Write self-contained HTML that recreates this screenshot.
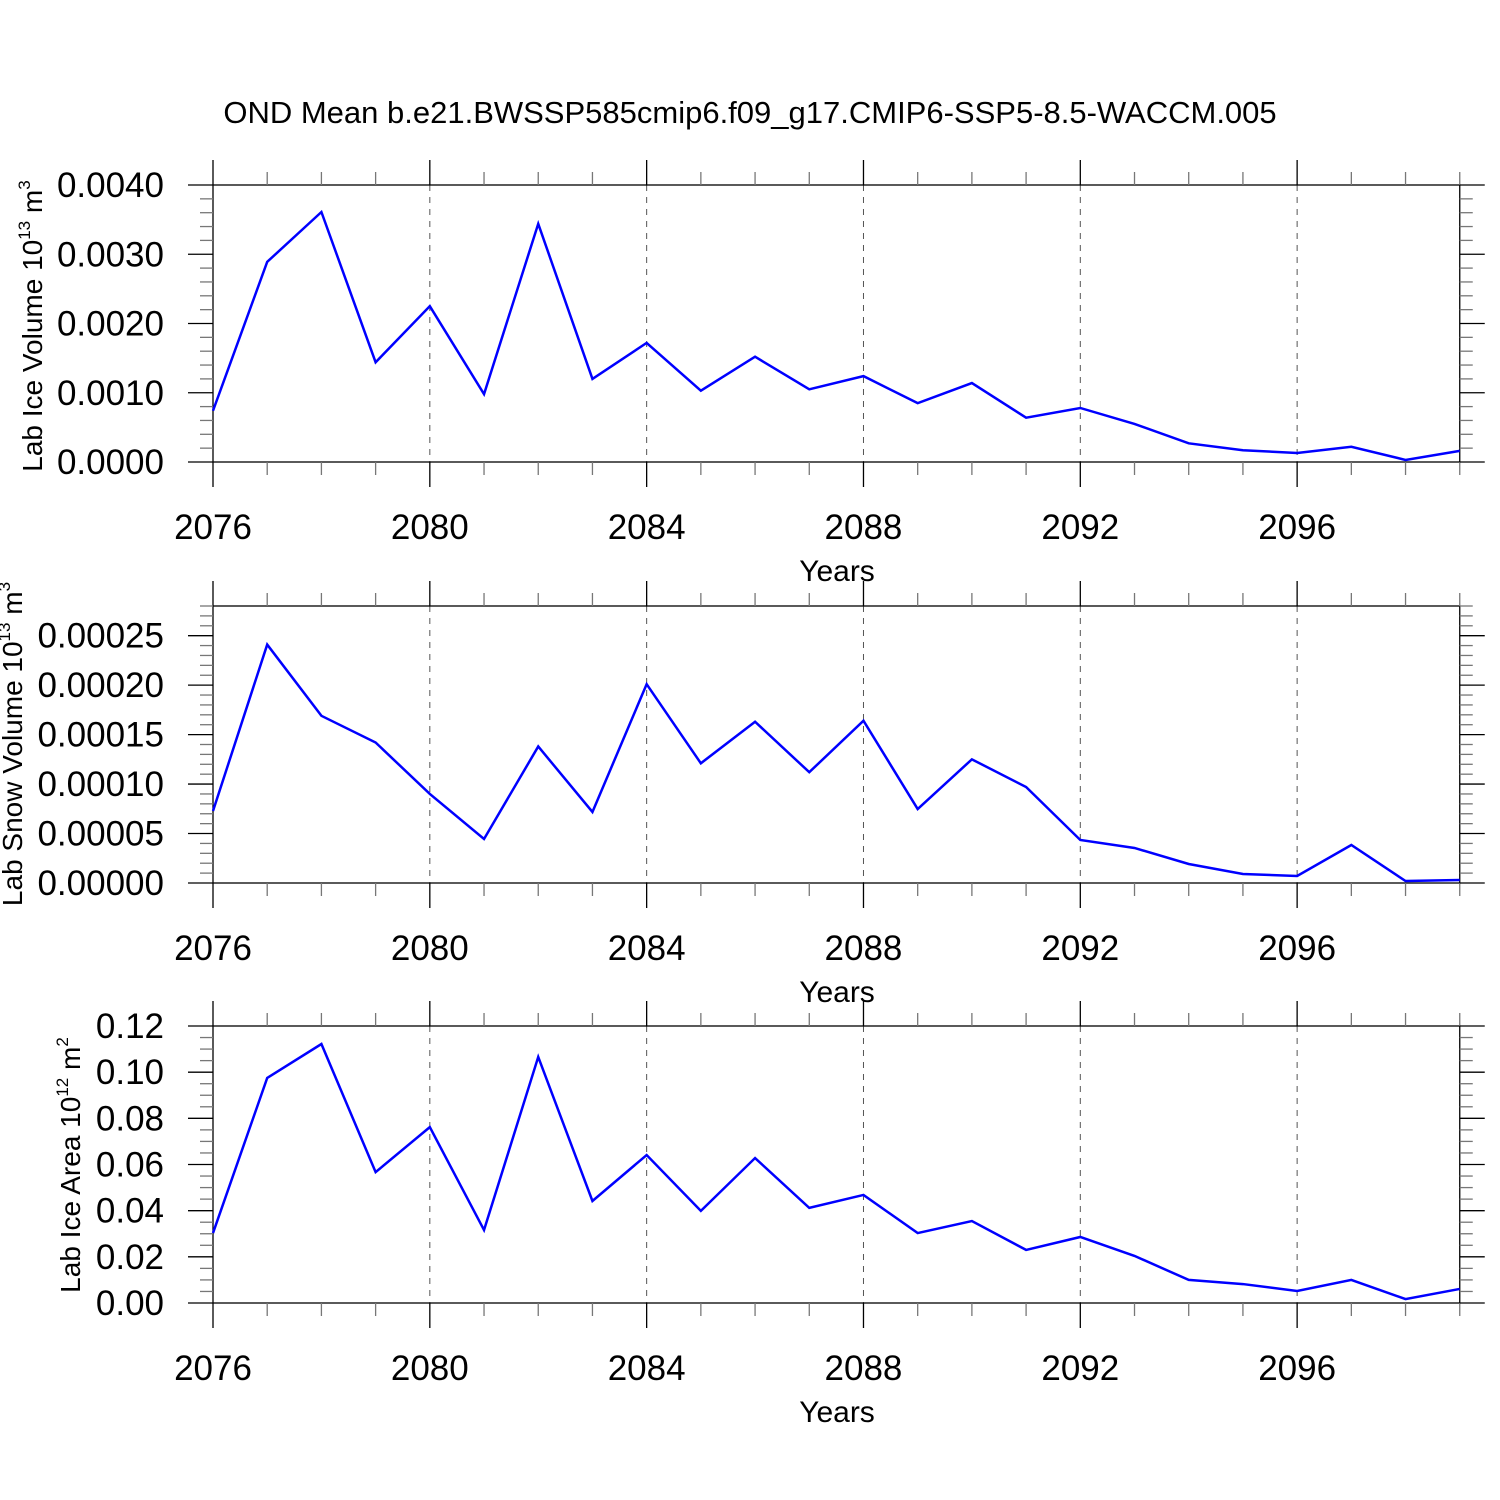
<!DOCTYPE html>
<html><head><meta charset="utf-8"><style>
html,body{margin:0;padding:0;background:#fff;}
svg{display:block;font-family:"Liberation Sans",sans-serif;}
</style></head><body>
<svg id="c" width="1500" height="1500" viewBox="0 0 1500 1500">
<text x="750" y="123" text-anchor="middle" font-size="31">OND Mean b.e21.BWSSP585cmip6.f09_g17.CMIP6-SSP5-8.5-WACCM.005</text>
</svg>
<script>
const years = [2076,2077,2078,2079,2080,2081,2082,2083,2084,2085,2086,2087,2088,2089,2090,2091,2092,2093,2094,2095,2096,2097,2098,2099];
const xTickLabels = ["2076","2080","2084","2088","2092","2096"];
const iceVolume = [0.00074,0.00289,0.00361,0.00144,0.00225,0.00098,0.00344,0.0012,0.00172,0.00103,0.00152,0.00105,0.00124,0.00085,0.00114,0.00064,0.00078,0.00055,0.00027,0.00017,0.00013,0.00022,0.00003,0.00016];
const snowVolume = [0.0000728,0.000241,0.000169,0.000142,0.00009,0.0000445,0.000138,0.0000718,0.000201,0.000121,0.000163,0.000112,0.000164,0.0000748,0.000125,0.000097,0.0000435,0.0000354,0.0000192,0.0000091,0.0000071,0.0000384,0.000002,0.000003];
const iceArea = [0.0303,0.0975,0.1122,0.0567,0.0762,0.0316,0.1066,0.0442,0.0641,0.0399,0.0628,0.0412,0.0468,0.0303,0.0355,0.023,0.0286,0.0204,0.01,0.0082,0.0052,0.01,0.0017,0.0061];
const iceVolTicks = ["0.0000","0.0010","0.0020","0.0030","0.0040"];
const snowVolTicks = ["0.00000","0.00005","0.00010","0.00015","0.00020","0.00025"];
const iceAreaTicks = ["0.00","0.02","0.04","0.06","0.08","0.10","0.12"];

const NS="http://www.w3.org/2000/svg";
const svg=document.getElementById('c');
function el(tag,attrs,parent){const e=document.createElementNS(NS,tag);for(const k in attrs)e.setAttribute(k,attrs[k]);(parent||svg).appendChild(e);return e;}
const X0=213,X1=1459.75;
function xs(yr){return X0+(yr-2076)*(X1-X0)/23;}

const panels=[
 {key:'ice-volume',data:iceVolume,ticks:iceVolTicks,ymax:0.004,major:0.001,minor:0.0002,top:185,title:'Lab Ice Volume 10',sup:'13',unit:' m',usup:'3',tx:42,ty:326},
 {key:'snow-volume',data:snowVolume,ticks:snowVolTicks,ymax:0.00028,major:0.00005,minor:0.00001,top:606,title:'Lab Snow Volume 10',sup:'13',unit:' m',usup:'3',tx:22,ty:744},
 {key:'ice-area',data:iceArea,ticks:iceAreaTicks,ymax:0.12,major:0.02,minor:0.005,top:1026,title:'Lab Ice Area 10',sup:'12',unit:' m',usup:'2',tx:80,ty:1165}
];
const H=277;
panels.forEach(p=>{
 const g=el('g',{});
 
 
 const bot=p.top+H;
 const ys=v=>bot-v/p.ymax*H;
 years.forEach(yr=>{ if((yr-2076)%4===0 && yr!==2076){
  const l=el('line',{x1:xs(yr),x2:xs(yr),y1:p.top,y2:bot,stroke:'#555','stroke-width':1,'stroke-dasharray':'6,6'},g);
  
  
 }});
 const fr=el('rect',{x:X0,y:p.top,width:X1-X0,height:H,fill:'none',stroke:'#000','stroke-width':1.3},g);
 
 
 years.forEach(yr=>{
  const maj=(yr-2076)%4===0;const len=maj?25:13;const x=xs(yr);
  el('line',{x1:x,x2:x,y1:p.top-len,y2:p.top,stroke:maj?'#000':'#777','stroke-width':1.3},g);
  el('line',{x1:x,x2:x,y1:bot,y2:bot+len,stroke:maj?'#000':'#777','stroke-width':1.3},g);
 });
 xTickLabels.forEach(s=>{
  const t=el('text',{x:xs(+s),y:bot+77,'text-anchor':'middle','font-size':35},g);t.textContent=s;
  
  
 });
 const xt=el('text',{x:837,y:bot+119,'text-anchor':'middle','font-size':30},g);xt.textContent='Years';
 
 
 const n=Math.round(p.ymax/p.minor);
 for(let i=0;i<=n;i++){
  const v=i*p.minor;const maj=Math.abs(v/p.major-Math.round(v/p.major))<1e-6;const len=maj?25:13;const y=ys(v);
  el('line',{x1:X0-len,x2:X0,y1:y,y2:y,stroke:maj?'#000':'#777','stroke-width':1.3},g);
  el('line',{x1:X1,x2:X1+len,y1:y,y2:y,stroke:maj?'#000':'#777','stroke-width':1.3},g);
 }
 p.ticks.forEach(s=>{
  const t=el('text',{x:164,y:ys(+s)+12,'text-anchor':'end','font-size':35},g);t.textContent=s;
  
  
 });
 const yt=el('text',{transform:`translate(${p.tx},${p.ty}) rotate(-90)`,'text-anchor':'middle','font-size':28},g);
 
 
 yt.innerHTML=`${p.title}<tspan dy="-12" font-size="17">${p.sup}</tspan><tspan dy="12">${p.unit}</tspan><tspan dy="-12" font-size="17">${p.usup}</tspan>`;
 const pts=years.map((yr,i)=>xs(yr)+','+ys(p.data[i])).join(' ');
 const pl=el('polyline',{points:pts,fill:'none',stroke:'#0000ff','stroke-width':2.5,'stroke-linejoin':'miter'},g);
 
 
});
</script>
</body></html>
